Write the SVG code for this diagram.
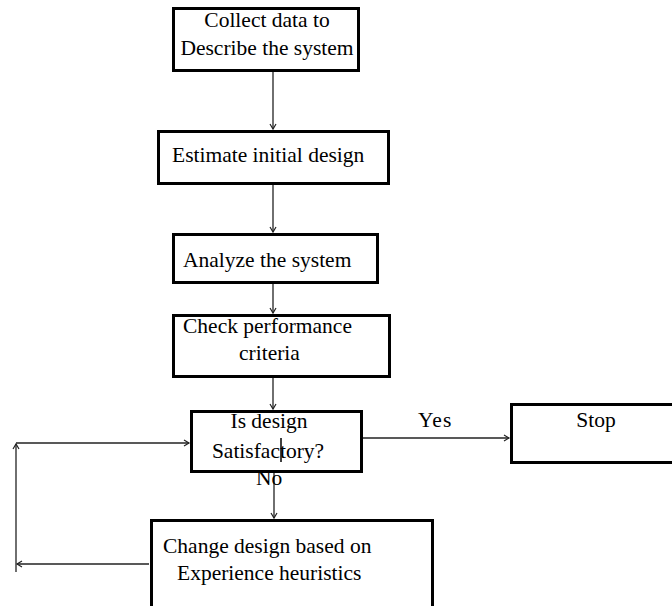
<svg xmlns="http://www.w3.org/2000/svg" width="672" height="606" viewBox="0 0 672 606">
<style>
.box{fill:#fff;stroke:#000;stroke-width:3}
.t{font-family:"Liberation Serif","Times New Roman",serif;font-size:21.5px;fill:#000}
.c{fill:none;stroke:#222;stroke-width:1.3}
</style>
<defs>
<marker id="ah" markerWidth="8" markerHeight="8" refX="6" refY="4" orient="auto" markerUnits="userSpaceOnUse">
<path d="M1,1 L6,4 L1,7" fill="none" stroke="#222" stroke-width="1.2"/>
</marker>
</defs>
<rect width="672" height="606" fill="#fff"/>
<g id="connectors">
<line class="c" x1="273" y1="72" x2="273" y2="129" marker-end="url(#ah)"/>
<line class="c" x1="273" y1="185" x2="273" y2="232" marker-end="url(#ah)"/>
<line class="c" x1="273" y1="284" x2="273" y2="313" marker-end="url(#ah)"/>
<line class="c" x1="273" y1="378" x2="273" y2="409" marker-end="url(#ah)"/>
<line class="c" x1="274" y1="466" x2="274" y2="518" marker-end="url(#ah)"/>
<line class="c" x1="363" y1="438" x2="509" y2="438" marker-end="url(#ah)"/>
<line class="c" x1="149" y1="564" x2="17" y2="564" marker-end="url(#ah)"/>
<line class="c" x1="16" y1="572" x2="16" y2="444" marker-end="url(#ah)"/>
<line class="c" x1="16" y1="443" x2="189" y2="443" marker-end="url(#ah)"/>
</g>
<g id="n1">
<rect class="box" x="173.5" y="8.5" width="185" height="62"/>
<text class="t" x="267" y="27" text-anchor="middle">Collect data to</text>
<text class="t" x="267" y="55" text-anchor="middle">Describe the system</text>
</g>
<g id="n2">
<rect class="box" x="158.5" y="131.5" width="230" height="52"/>
<text class="t" x="172" y="162">Estimate initial design</text>
</g>
<g id="n3">
<rect class="box" x="173.5" y="234.5" width="204" height="48"/>
<text class="t" x="183" y="267">Analyze the system</text>
</g>
<g id="n4">
<rect class="box" x="173.5" y="315.5" width="216" height="61"/>
<text class="t" x="183" y="333">Check performance</text>
<text class="t" x="239" y="360">criteria</text>
</g>
<g id="n5">
<rect class="box" x="191.5" y="411.5" width="170" height="60"/>
<text class="t" x="269" y="428" text-anchor="middle">Is design</text>
<text class="t" x="268" y="458" text-anchor="middle">Satisfactory?</text>
<line x1="281" y1="438" x2="281" y2="462" stroke="#000" stroke-width="1.5"/>
</g>
<g id="n6">
<rect class="box" x="511.5" y="404.5" width="164" height="58"/>
<text class="t" x="596" y="427" text-anchor="middle">Stop</text>
</g>
<g id="n7">
<rect class="box" x="151.5" y="520.5" width="281" height="90"/>
<text class="t" x="163" y="553">Change design based on</text>
<text class="t" x="177" y="580">Experience heuristics</text>
</g>
<g id="labels">
<text class="t" x="418" y="427" letter-spacing="1">Yes</text>
<text class="t" x="256" y="485">No</text>
</g>
</svg>
